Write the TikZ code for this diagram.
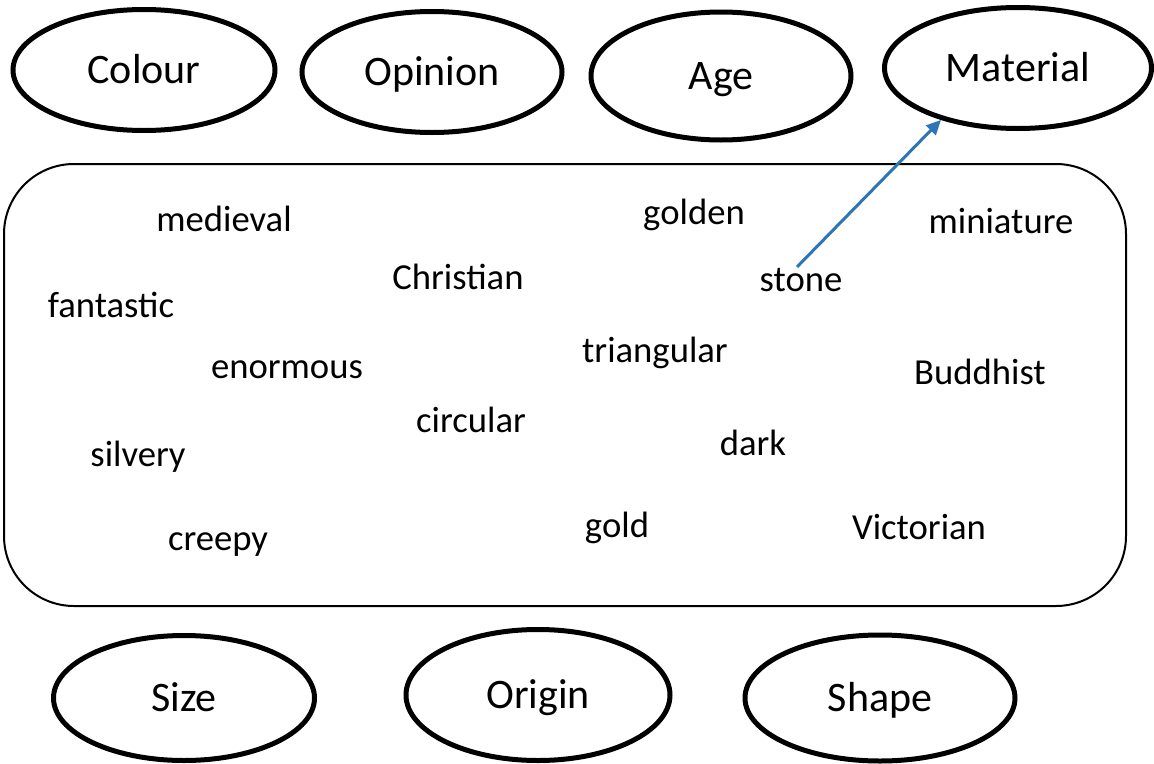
\documentclass[tikz,border=0pt]{standalone}
\usepackage{fontspec}
\setmainfont{Carlito}
\usetikzlibrary{shapes.geometric,arrows.meta}
\definecolor{arrowblue}{HTML}{2E75B6}
\tikzset{
  cat/.style={draw, ellipse, line width=3.75pt, inner sep=0pt,
    font=\fontsize{31.5pt}{36pt}\selectfont, text height=26.5pt, text depth=6.9pt},
  word/.style={inner sep=0pt, font=\fontsize{27.5pt}{32pt}\selectfont,
    text height=0.7em, text depth=0.22em},
  arrowline/.style={draw=arrowblue, line width=2.25pt,
    -{Triangle[length=11pt,width=10pt]}}
}
\begin{document}
\begin{tikzpicture}[x=0.75pt,y=-0.75pt]
\useasboundingbox (0,0) rectangle (1154,764);
% category ellipses
\node[cat, minimum width=196.5pt, minimum height=90.75pt] (colour) at (144,70) {Colour};
\node[cat, minimum width=195pt, minimum height=90.75pt] (opinion) at (432,72) {Opinion};
\node[cat, minimum width=195pt, minimum height=96pt] (age) at (721,76) {Age};
\node[cat, minimum width=200.25pt, minimum height=90.75pt] (mat) at (1018,68) {Material};
\node[cat, minimum width=195.75pt, minimum height=93.75pt] (size) at (184,698) {Size};
\node[cat, minimum width=198pt, minimum height=98.25pt] (origin) at (538,695) {Origin};
\node[cat, minimum width=202.5pt, minimum height=94.5pt] (shape) at (880,698) {Shape};
% container
\node[draw, line width=1.5pt, rounded corners=52.5pt, minimum width=841.5pt,
  minimum height=331.5pt, inner sep=0pt] (box) at (565,385) {};
% words
\node[word] (medieval) at (224,228) {medieval};
\node[word] (golden) at (694,221) {golden};
\node[word] (miniature) at (1001,230) {miniature};
\node[word] (christian) at (458,286) {Christian};
\node[word] (stone) at (801,288) {stone};
\node[word] (fantastic) at (111,314) {fantastic};
\node[word] (triangular) at (655,359) {triangular};
\node[word] (enormous) at (287,375) {enormous};
\node[word] (buddhist) at (980,381) {Buddhist};
\node[word] (circular) at (471,429) {circular};
\node[word] (silvery) at (138,463) {silvery};
\node[word] (dark) at (753,452) {dark};
\node[word] (creepy) at (218,547) {creepy};
\node[word] (gold) at (617,534) {gold};
\node[word] (victorian) at (919,536) {Victorian};
% arrow
\draw[arrowline] ([xshift=-3pt,yshift=11pt]stone.north) -- (mat.214);
\end{tikzpicture}
\end{document}
